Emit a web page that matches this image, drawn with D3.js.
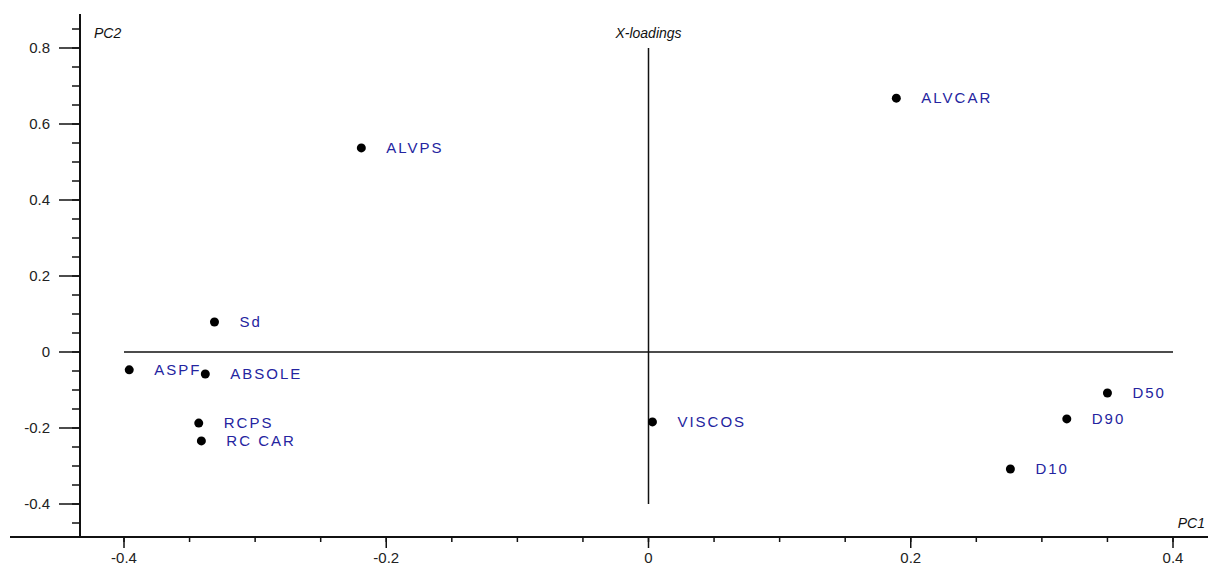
<!DOCTYPE html>
<html>
<head>
<meta charset="utf-8">
<script src="https://cdn.jsdelivr.net/npm/d3@7"></script>
<style>
  body { margin: 0; background: #fff; }
  text { font-family: "Liberation Sans", Arial, sans-serif; }
</style>
</head>
<body>
<svg width="1208" height="567"></svg>
<script>
// loadings
var names = ["ALVCAR", "ALVPS", "Sd", "ASPF", "ABSOLE", "RCPS", "RC CAR", "VISCOS", "D50", "D90", "D10"];
var pc1 = [0.189, -0.219, -0.331, -0.396, -0.338, -0.343, -0.341, 0.003, 0.350, 0.319, 0.276];
var pc2 = [0.668, 0.537, 0.079, -0.047, -0.058, -0.187, -0.234, -0.184, -0.108, -0.176, -0.308];
var xTicks = [-0.4, -0.2, 0, 0.2, 0.4];
var yTicks = [-0.4, -0.2, 0, 0.2, 0.4, 0.6, 0.8];

var svg = d3.select("svg");

var x = d3.scaleLinear().domain([-0.4, 0.4]).range([124, 1173]);
var y = d3.scaleLinear().domain([-0.4, 0.8]).range([504, 48]);

var axisY = 537, axisX = 80;

// minor ticks every 0.05
var xMinor = d3.range(-0.45, 0.425, 0.05).map(function(v){ return +v.toFixed(2); })
    .filter(function(v){ return x(v) > axisX + 2; });
var yMinor = d3.range(-0.45, 0.875, 0.05).map(function(v){ return +v.toFixed(2); })
    .filter(function(v){ return y(v) < axisY - 2; });

var g = svg.append("g");

// x axis
g.append("line").attr("x1", 10).attr("x2", 1208).attr("y1", axisY).attr("y2", axisY)
  .attr("stroke", "#111").attr("stroke-width", 2);
g.selectAll(".xminor").data(xMinor).enter().append("line")
  .attr("x1", function(d){ return x(d); }).attr("x2", function(d){ return x(d); })
  .attr("y1", axisY).attr("y2", axisY + 5)
  .attr("stroke", "#111").attr("stroke-width", 1.5);
g.selectAll(".xmajor").data(xTicks).enter().append("line")
  .attr("x1", function(d){ return x(d); }).attr("x2", function(d){ return x(d); })
  .attr("y1", axisY).attr("y2", axisY + 11)
  .attr("stroke", "#111").attr("stroke-width", 1.5);
g.selectAll(".xlab").data(xTicks).enter().append("text")
  .attr("x", function(d){ return x(d); }).attr("y", 563)
  .attr("text-anchor", "middle").attr("font-size", 15).attr("fill", "#222")
  .text(function(d){ return d === 0 ? "0" : d.toString(); });

// y axis
g.append("line").attr("x1", axisX).attr("x2", axisX).attr("y1", 14).attr("y2", axisY)
  .attr("stroke", "#111").attr("stroke-width", 2);
g.selectAll(".yminor").data(yMinor).enter().append("line")
  .attr("x1", axisX - 8).attr("x2", axisX)
  .attr("y1", function(d){ return y(d); }).attr("y2", function(d){ return y(d); })
  .attr("stroke", "#111").attr("stroke-width", 1.5);
g.selectAll(".ymajor").data(yTicks).enter().append("line")
  .attr("x1", axisX - 21).attr("x2", axisX)
  .attr("y1", function(d){ return y(d); }).attr("y2", function(d){ return y(d); })
  .attr("stroke", "#111").attr("stroke-width", 1.5);
g.selectAll(".ylab").data(yTicks).enter().append("text")
  .attr("x", 50).attr("y", function(d){ return y(d) + 5; })
  .attr("text-anchor", "end").attr("font-size", 15).attr("fill", "#222")
  .text(function(d){ return d === 0 ? "0" : d.toString(); });

// zero lines
g.append("line").attr("x1", x(-0.4)).attr("x2", x(0.4)).attr("y1", y(0)).attr("y2", y(0))
  .attr("stroke", "#111").attr("stroke-width", 1.5);
g.append("line").attr("x1", x(0)).attr("x2", x(0)).attr("y1", y(0.8)).attr("y2", y(-0.4))
  .attr("stroke", "#111").attr("stroke-width", 1.5);

// titles
g.append("text").attr("x", 94).attr("y", 38).attr("font-size", 14).attr("font-style", "italic")
  .attr("fill", "#111").text("PC2");
g.append("text").attr("x", x(0)).attr("y", 38).attr("font-size", 14).attr("font-style", "italic")
  .attr("text-anchor", "middle").attr("fill", "#111").text("X-loadings");
g.append("text").attr("x", 1205).attr("y", 528).attr("font-size", 14).attr("font-style", "italic")
  .attr("text-anchor", "end").attr("fill", "#111").text("PC1");

// points
var pts = g.selectAll(".pt").data(names).enter().append("g")
  .attr("transform", function(d, i){ return "translate(" + [x(pc1[i]), y(pc2[i])] + ")"; });
pts.append("circle").attr("r", 4.5).attr("fill", "#000");
pts.append("text").attr("x", 25).attr("y", 5)
  .attr("font-size", 15).attr("fill", "#2424a0").attr("letter-spacing", 2)
  .text(function(d){ return d; });
</script>
</body>
</html>
